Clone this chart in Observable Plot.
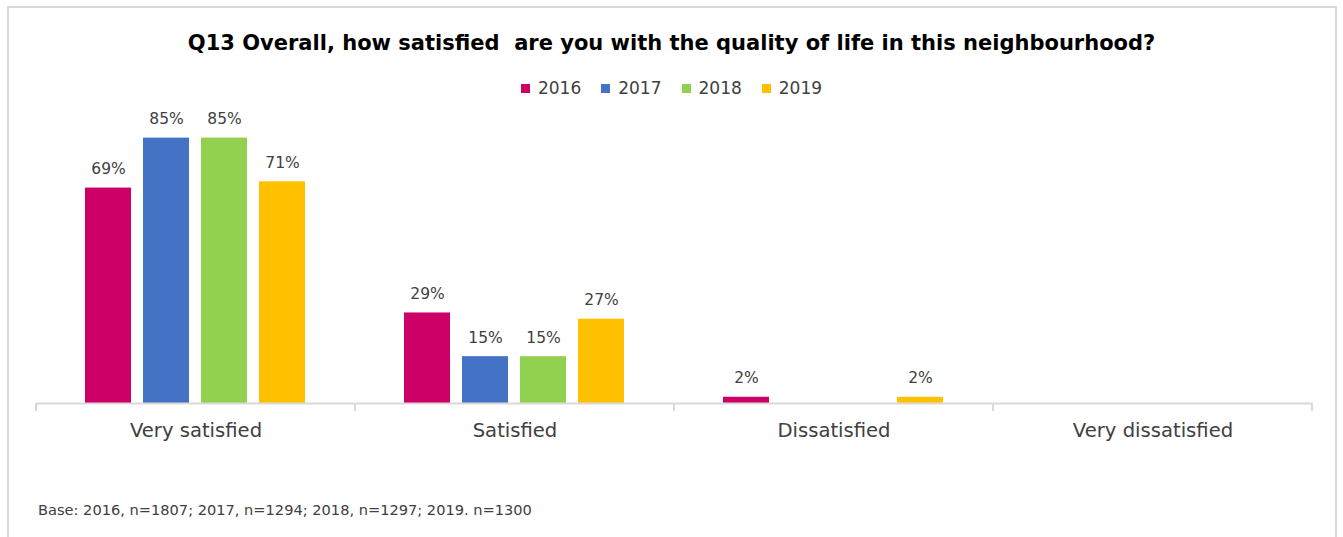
<!DOCTYPE html>
<html>
<head>
<meta charset="utf-8">
<script src="https://cdn.jsdelivr.net/npm/d3@7"></script>
<script src="https://cdn.jsdelivr.net/npm/@observablehq/plot@0.6"></script>
<style>
  html, body { margin: 0; padding: 0; background: #fff; overflow: hidden; }
  #root { position: relative; width: 1343px; height: 537px; font-family: "DejaVu Sans", sans-serif; }
  #frame { position: absolute; left: 7px; top: 6px; width: 1330px; height: 600px; border: 2px solid #d9d9d9; box-sizing: border-box; }
  #title { position: absolute; left: 0; width: 1343px; top: 30px; text-align: center; font-weight: bold; font-size: 21px; color: #000; line-height: 26px; white-space: pre; }
  #legend { position: absolute; left: 0; width: 1343px; top: 77px; display: flex; justify-content: center; font-size: 17px; color: #404040; line-height: 22px; }
  .item { display: flex; align-items: center; margin: 0 10px; }
  .sw { width: 9px; height: 9px; margin-right: 8px; }
  #chart { position: absolute; left: 0; top: 100px; }
  #foot { position: absolute; left: 38px; top: 501px; font-size: 14.6px; color: #404040; line-height: 18px; }
</style>
</head>
<body>
<div id="root">
  <div id="frame"></div>
  <div id="title"></div>
  <div id="legend"></div>
  <div id="chart"></div>
  <div id="foot"></div>
</div>
<script>
const titleText = "Q13 Overall, how satisfied  are you with the quality of life in this neighbourhood?";
const footText = "Base: 2016, n=1807; 2017, n=1294; 2018, n=1297; 2019. n=1300";
const categories = ["Very satisfied", "Satisfied", "Dissatisfied", "Very dissatisfied"];
const years = ["2016", "2017", "2018", "2019"];
const colors = ["#CC0066", "#4472C4", "#92D050", "#FFC000"];
const v2016 = [69, 29, 2, 0];
const v2017 = [85, 15, 0, 0];
const v2018 = [85, 15, 0, 0];
const v2019 = [71, 27, 2, 0];

const series = [v2016, v2017, v2018, v2019];
const rows = [];
categories.forEach((c, i) => {
  years.forEach((y, j) => rows.push({cat: c, year: y, value: series[j][i]}));
});

document.getElementById("title").textContent = titleText;
document.getElementById("foot").textContent = footText;
const leg = document.getElementById("legend");
years.forEach((y, j) => {
  const it = document.createElement("div");
  it.className = "item";
  const sw = document.createElement("div");
  sw.className = "sw";
  sw.style.background = colors[j];
  const t = document.createElement("span");
  t.textContent = y;
  it.appendChild(sw); it.appendChild(t);
  leg.appendChild(it);
});

const chart = Plot.plot({
  width: 1343,
  height: 370,
  marginLeft: 35,
  marginRight: 31,
  marginTop: 22,
  marginBottom: 67,
  style: {fontFamily: "DejaVu Sans, sans-serif", fontSize: "19.6px", color: "#404040", background: "transparent"},
  fx: {domain: categories, padding: 0, axis: "bottom", tickSize: 0, tickPadding: 20, label: null},
  x: {domain: years, paddingInner: 0.2, paddingOuter: 0.85, axis: null},
  y: {domain: [0, 90], axis: null},
  color: {domain: years, range: colors},
  marks: [
    Plot.barY(rows, {fx: "cat", x: "year", y: "value", fill: "year"}),
    Plot.ruleY([0], {stroke: "#d9d9d9", strokeWidth: 2}),
    Plot.text(rows.filter(d => d.value > 0), {
      fx: "cat", x: "year", y: "value", text: d => d.value + "%",
      lineAnchor: "bottom", dy: -14, fontSize: 15.5, fill: "#404040"
    })
  ]
});

// category boundary ticks on the axis line, placed with Plot's own scales
const fx = chart.scale("fx");
const ys = chart.scale("y");
const y0 = ys.apply(0);
const bounds = categories.map(c => fx.apply(c));
bounds.push(fx.apply(categories[categories.length - 1]) + fx.bandwidth);
d3.select(chart).append("g")
  .selectAll("line").data(bounds).join("line")
  .attr("x1", d => d).attr("x2", d => d)
  .attr("y1", y0).attr("y2", y0 + 8)
  .attr("stroke", "#d9d9d9").attr("stroke-width", 2);

document.getElementById("chart").appendChild(chart);
</script>
</body>
</html>
